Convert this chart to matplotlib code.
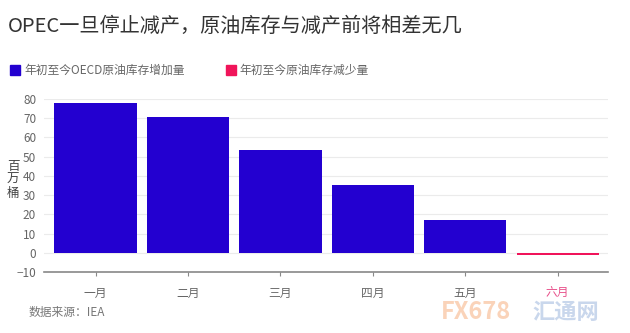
import matplotlib
matplotlib.use("Agg")
import matplotlib.pyplot as plt
from matplotlib.patches import Rectangle

plt.rcParams['font.family'] = ['Noto Sans CJK SC', 'DejaVu Sans']

months = ["一月", "二月", "三月", "四月", "五月", "六月"]
oecd_increase = [78, 70.5, 53.5, 35.5, 17, None]
reduction_gap = [None, None, None, None, None, -1]
y_ticks = [-10, 0, 10, 20, 30, 40, 50, 60, 70, 80]

blue = "#2300D0"
red = "#F0145A"
grey = "#666666"

fig = plt.figure(figsize=(6.3, 3.33), dpi=100)
ax = fig.add_axes([0.0706, 0.183, 0.8944, 0.52])

x = list(range(len(months)))
for i, v in enumerate(oecd_increase):
    if v is not None:
        ax.bar(i, v, width=0.89, color=blue, zorder=3)
for i, v in enumerate(reduction_gap):
    if v is not None:
        ax.bar(i, v, width=0.89, color=red, zorder=3)

ax.set_xlim(-0.553, 5.544)
ax.set_ylim(-10, 80)
ax.set_yticks(y_ticks)
ax.set_xticks(x)
ax.set_xticklabels(months)
ax.grid(axis="y", color="#EBEBEB", linewidth=0.8, zorder=0)
for s in ["left", "right", "top"]:
    ax.spines[s].set_visible(False)
ax.spines["bottom"].set_color("#888888")
ax.spines["bottom"].set_linewidth(1.2)
ax.spines["bottom"].set_position(("data", -10))
ax.tick_params(axis="y", length=0, labelsize=8.5, labelcolor=grey, pad=6)
ax.tick_params(axis="x", length=3, color="#888888", labelsize=8.5, labelcolor=grey, pad=8)
ax.get_xticklabels()[5].set_color("#E8508A")

fig.text(0.021, 0.46, "百\n万\n桶", fontsize=9, color="#444444",
         va="center", ha="center", linespacing=1.05)

fig.text(0.013, 0.922, "OPEC一旦停止减产，原油库存与减产前将相差无几",
         fontsize=14.5, color="#333333", va="center")

fig.patches.append(Rectangle((0.016, 0.775), 0.016, 0.03, color=blue,
                             transform=fig.transFigure, figure=fig))
fig.text(0.038, 0.79, "年初至今OECD原油库存增加量", fontsize=8.5,
         color=grey, va="center")
fig.patches.append(Rectangle((0.358, 0.775), 0.016, 0.03, color=red,
                             transform=fig.transFigure, figure=fig))
fig.text(0.380, 0.79, "年初至今原油库存减少量", fontsize=8.5,
         color=grey, va="center")

fig.text(0.046, 0.063, "数据来源：IEA", fontsize=8.5, color="#777777", va="center")

# faint logo in the bottom right corner, kept below the tick labels
fig.text(0.70, 0.062, "FX678", fontsize=17, fontweight="bold",
         color="#F9C9A8", alpha=0.8, va="center")
fig.text(0.845, 0.062, "汇通网", fontsize=16, fontweight="bold",
         color="#BCCDE8", alpha=0.8, va="center")

fig.savefig("out.png", dpi=100)
